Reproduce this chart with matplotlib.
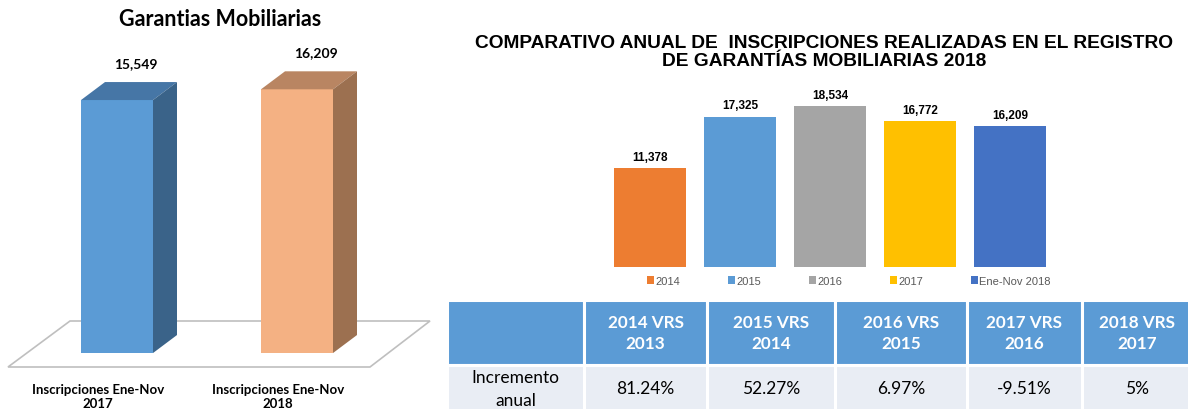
import matplotlib
matplotlib.use("Agg")
import matplotlib.pyplot as plt
from matplotlib.patches import Polygon, Rectangle, Patch

plt.rcParams['font.family'] = ['Lato', 'DejaVu Sans']

# ---- datos ----
izq_categorias = ['Inscripciones Ene-Nov\n2017', 'Inscripciones Ene-Nov\n2018']
izq_valores = [15549, 16209]
izq_frente = ['#5B9BD5', '#F4B183']
izq_techo = ['#4676A6', '#B98562']
izq_lado = ['#3A6389', '#9C7050']

anios = ['2014', '2015', '2016', '2017', 'Ene-Nov 2018']
inscripciones = [11378, 17325, 18534, 16772, 16209]
colores = ['#ED7D31', '#5B9BD5', '#A5A5A5', '#FFC000', '#4472C4']

tabla_encabezado = ['', '2014 VRS\n2013', '2015 VRS\n2014', '2016 VRS\n2015',
                    '2017 VRS\n2016', '2018 VRS\n2017']
tabla_fila = ['Incremento\nanual', '81.24%', '52.27%', '6.97%', '-9.51%', '5%']

W, H = 1188, 410
fig = plt.figure(figsize=(W / 100, H / 100), dpi=100)


def caja(x0, y0, x1, y1):
    # pixeles (origen arriba a la izquierda) -> fraccion de figura
    return [x0 / W, 1 - y1 / H, (x1 - x0) / W, (y1 - y0) / H]


# ---- grafico 3D izquierdo ----
ax1 = fig.add_axes(caja(0, 0, 440, 410))
ax1.axis('off')
ax1.set_xlim(-117 / 180, (440 - 117) / 180)
ax1.set_ylim(-3440, 21760)
upp = 25200 / 410  # unidades por pixel


def fx(px):
    return (px - 117) / 180


def fy(py):
    return 21760 - py * upp


# piso
piso = Polygon([(fx(8), fy(368)), (fx(70), fy(322)), (fx(430), fy(322)), (fx(370), fy(368))],
               closed=True, facecolor='white', edgecolor='#BFBFBF', lw=1.2, zorder=1)
ax1.add_patch(piso)

dx, dy = 24 / 180, 18 * upp
w = 0.4
for i, v in enumerate(izq_valores):
    ax1.add_patch(Rectangle((i - w / 2, 0), w, v, facecolor=izq_frente[i], edgecolor='none', zorder=3))
    ax1.add_patch(Polygon([(i - w / 2, v), (i + w / 2, v), (i + w / 2 + dx, v + dy), (i - w / 2 + dx, v + dy)],
                          closed=True, facecolor=izq_techo[i], edgecolor='none', zorder=3))
    ax1.add_patch(Polygon([(i + w / 2, 0), (i + w / 2 + dx, dy), (i + w / 2 + dx, v + dy), (i + w / 2, v)],
                          closed=True, facecolor=izq_lado[i], edgecolor='none', zorder=3))
    ax1.annotate(f'{v:,}', xy=(i + dx * 0.8, v + dy), xytext=(0, 13.5), textcoords='offset points',
                 ha='center', va='center', fontsize=10, fontweight='bold', color='black')
    ax1.text(i - 0.105, fy(397), izq_categorias[i], ha='center', va='center', fontsize=9.5,
             fontweight='bold', linespacing=1.2, multialignment='center')

fig.text(220 / W, 1 - 20 / H, 'Garantias Mobiliarias', ha='center', va='center',
         fontsize=15.5, fontweight='bold')

# ---- grafico de barras derecho ----
ax2 = fig.add_axes(caja(605, 90, 1055, 268))
ax2.axis('off')
ax2.set_xlim(-0.5, 4.5)
ax2.set_ylim(0, 20491)
pos = range(len(anios))
ax2.bar(pos, inscripciones, width=0.8, color=colores)
for x, v in zip(pos, inscripciones):
    ax2.annotate(f'{v:,}', xy=(x, v), xytext=(0, 8), textcoords='offset points', ha='center',
                 va='center', fontsize=8.5, fontweight='bold', family='Liberation Sans')

fig.text(824 / W, 1 - 52.5 / H,
         'COMPARATIVO ANUAL DE  INSCRIPCIONES REALIZADAS EN EL REGISTRO\nDE GARANTÍAS MOBILIARIAS 2018',
         ha='center', va='center', fontsize=13.8, fontweight='bold', family='Liberation Sans',
         linespacing=1.12, multialignment='center')

handles = [Patch(facecolor=c, edgecolor='none') for c in colores]
leg = fig.legend(handles, anios, loc='center left', bbox_to_anchor=(647 / W, 1 - 282 / H),
                 ncol=5, frameon=False, handlelength=0.65, handleheight=0.65, handletextpad=0.1,
                 columnspacing=4.3, borderaxespad=0, borderpad=0,
                 prop={'family': 'Liberation Sans', 'size': 8})
for t in leg.get_texts():
    t.set_color('#595959')

# ---- tabla ----
ax3 = fig.add_axes(caja(447, 301, 1192, 413))
ax3.axis('off')
anchos = [137, 123, 128, 132, 115, 110]
tot = sum(anchos)
tabla = ax3.table(cellText=[tabla_fila], colLabels=tabla_encabezado,
                  colWidths=[a / tot for a in anchos], cellLoc='center', bbox=[0, 0, 1, 1])
tabla.auto_set_font_size(False)
for (r, c), celda in tabla.get_celld().items():
    celda.set_edgecolor('white')
    celda.set_linewidth(2.2)
    txt = celda.get_text()
    txt.set_multialignment('center')
    if r == 0:
        celda.set_height(0.576)
        celda.set_facecolor('#5B9BD5')
        txt.set_color('white')
        txt.set_fontweight('bold')
        txt.set_fontsize(12.3)
        txt.set_linespacing(1.4)
    else:
        celda.set_height(0.424)
        celda.set_facecolor('#E9EDF4')
        txt.set_color('black')
        txt.set_fontsize(12.5)
        txt.set_linespacing(1.5)

fig.savefig('out.png', dpi=100)
